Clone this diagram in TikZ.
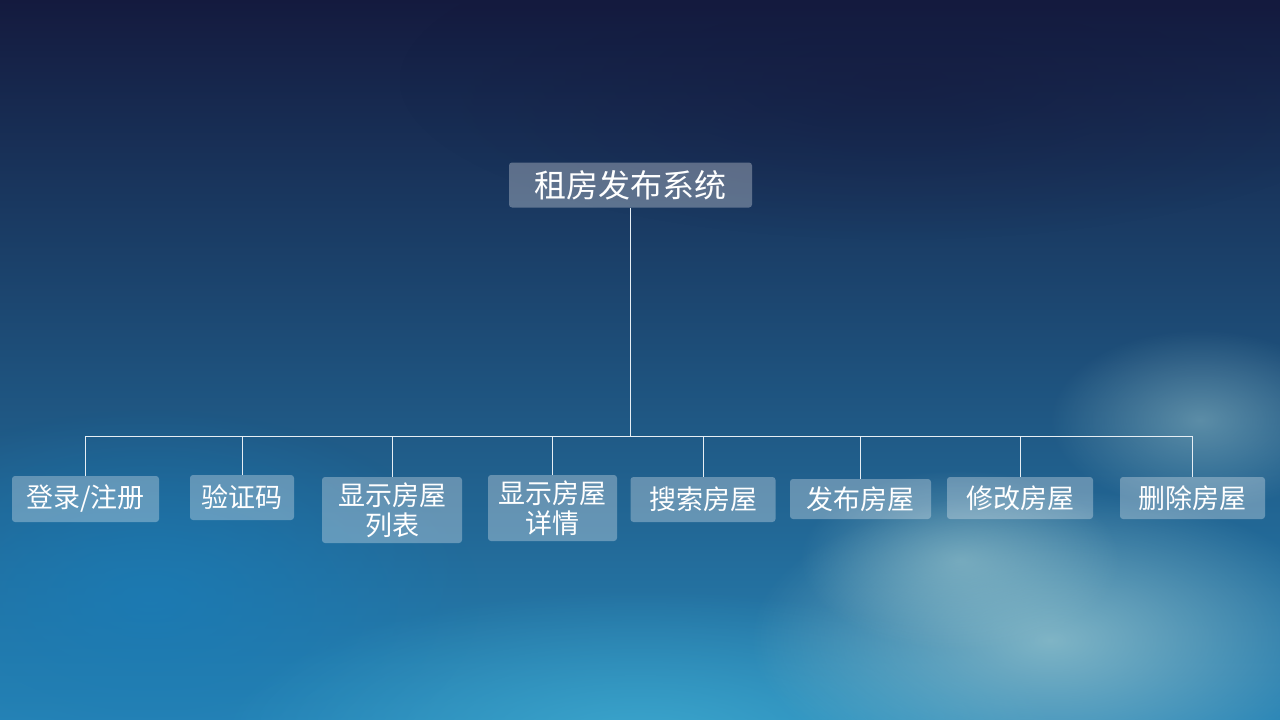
\documentclass[tikz,border=0pt]{standalone}
\usepackage{fontspec}
\newfontfamily\cjk{Noto Sans CJK SC}
\usetikzlibrary{fadings}
\definecolor{skytop}{HTML}{141A3E}
\definecolor{skymid}{HTML}{15355F}
\definecolor{skylow}{HTML}{2784B6}
\definecolor{cloud}{HTML}{A6CED2}
\definecolor{glow}{HTML}{44B4D6}
\definecolor{deep}{HTML}{1A7CB6}
\definecolor{wire}{HTML}{E6EEF4}
\tikzfading[name=soft, inner color=transparent!0, outer color=transparent!100]
\tikzset{
  box/.style={fill=white, fill opacity=0.3, text opacity=1, text=white,
    rounded corners=3pt, inner sep=0pt, align=center,
    font=\cjk\fontsize{27}{30}\selectfont},
  link/.style={draw=wire, line width=1pt},
  haze/.style={path fading=soft}
}
\begin{document}
\begin{tikzpicture}[x=1pt, y=-1pt]
  \useasboundingbox (0,0) rectangle (1280,720);
  \shade[top color=skytop, middle color=skymid, bottom color=skylow] (0,0) rectangle (1280,720);
  \fill[deep, haze, opacity=0.8] (150,600) ellipse (330 and 190);
  \fill[glow, haze, opacity=0.7] (640,740) ellipse (420 and 150);
  \fill[cloud, haze, opacity=0.7] (1050,640) ellipse (300 and 150);
  \fill[cloud, haze, opacity=0.5] (960,560) ellipse (160 and 90);
  \fill[cloud, haze, opacity=0.45] (1200,420) ellipse (150 and 90);
  \fill[skytop, haze, opacity=0.5] (900,80) ellipse (500 and 160);

  \node[box, minimum width=243pt, minimum height=45pt,
    font=\cjk\fontsize{32}{34}\selectfont] (root) at (630.5,185) {租房发布系统};
  \node[box, minimum width=147pt, minimum height=46pt] (login) at (85.5,499) {登录/注册};
  \node[box, minimum width=104pt, minimum height=45pt] (code) at (242,497.5) {验证码};
  \node[box, minimum width=140pt, minimum height=66pt] (list) at (392,510) {显示房屋\\列表};
  \node[box, minimum width=129pt, minimum height=66pt] (detail) at (552.5,508) {显示房屋\\详情};
  \node[box, minimum width=145pt, minimum height=45pt] (search) at (703,499.5) {搜索房屋};
  \node[box, minimum width=141pt, minimum height=40pt] (publish) at (860.5,499) {发布房屋};
  \node[box, minimum width=146pt, minimum height=42pt] (modify) at (1020,498) {修改房屋};
  \node[box, minimum width=145pt, minimum height=42pt] (delete) at (1192.5,498) {删除房屋};
  \coordinate (bus) at (630.5,436);

  \begin{scope}[link]
    \draw (root.south) -- (bus);
    \draw (bus) -| (login.north);
    \draw (bus) -| (code.north);
    \draw (bus) -| (list.north);
    \draw (bus) -| (detail.north);
    \draw (bus) -| (search.north);
    \draw (bus) -| (publish.north);
    \draw (bus) -| (modify.north);
    \draw (bus) -| (delete.north);
  \end{scope}
\end{tikzpicture}
\end{document}
